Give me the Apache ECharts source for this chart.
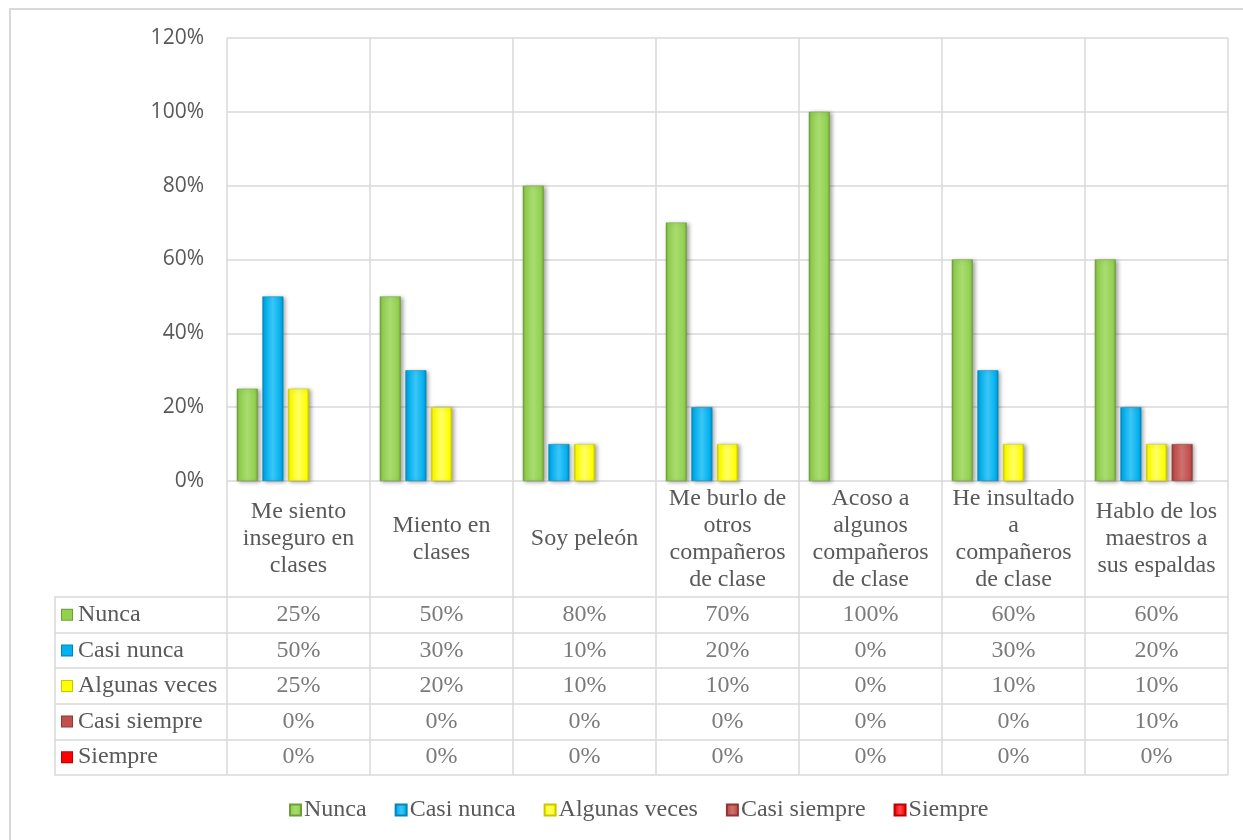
<!DOCTYPE html>
<html>
<head>
<meta charset="utf-8">
<script src="https://cdn.jsdelivr.net/npm/echarts@6/dist/echarts.min.js"></script>
<style>
html,body{margin:0;padding:0;background:#fff;}
#c{width:1243px;height:840px;}
</style>
</head>
<body>
<div id="c"></div>
<script>
const categories = ['Me siento\ninseguro en\nclases', 'Miento en\nclases', 'Soy peleón', 'Me burlo de\notros\ncompañeros\nde clase', 'Acoso a\nalgunos\ncompañeros\nde clase', 'He insultado\na\ncompañeros\nde clase', 'Hablo de los\nmaestros a\nsus espaldas'];
const seriesNames = ['Nunca', 'Casi nunca', 'Algunas veces', 'Casi siempre', 'Siempre'];
const nunca = [25, 50, 80, 70, 100, 60, 60];
const casiNunca = [50, 30, 10, 20, 0, 30, 20];
const algunasVeces = [25, 20, 10, 10, 0, 10, 10];
const casiSiempre = [0, 0, 0, 0, 0, 0, 10];
const siempre = [0, 0, 0, 0, 0, 0, 0];
const yMin = 0, yMax = 120, yStep = 20;

const allValues = [nunca, casiNunca, algunasVeces, casiSiempre, siempre];
const baseColors = ['#92d050', '#00b0f0', '#ffff00', '#c0504d', '#ff0000'];
const darkColors = ['#6f9e38', '#0086b8', '#c8c800', '#8e3735', '#c00000'];
const lightColors = ['#a9dc70', '#3cc6f6', '#ffff66', '#d0706d', '#ff4a4a'];

const textColor = '#595959';
const lineColor = '#d9d9d9';
const serif = '"Liberation Serif", "Times New Roman", serif';
const fs = 24;

function grad(i) {
  return new echarts.graphic.LinearGradient(0, 0, 1, 0, [
    {offset: 0, color: darkColors[i]},
    {offset: 0.12, color: baseColors[i]},
    {offset: 0.5, color: lightColors[i]},
    {offset: 0.88, color: baseColors[i]},
    {offset: 1, color: darkColors[i]}
  ]);
}

const barSeries = seriesNames.map((name, i) => ({
  name: name,
  type: 'bar',
  xAxisIndex: 0,
  yAxisIndex: 0,
  // zero values are not drawn (Excel shows nothing for them)
  data: allValues[i].map(v => (v === 0 ? '-' : v)),
  barWidth: 21,
  barGap: '22%',
  itemStyle: {
    color: grad(i),
    borderColor: darkColors[i],
    borderWidth: 0.5,
    shadowColor: 'rgba(0,0,0,0.35)',
    shadowBlur: 4,
    shadowOffsetX: 2,
    shadowOffsetY: 1
  },
  emphasis: {disabled: true}
}));

const tableData = [];
allValues.forEach((arr, r) => arr.forEach((v, c) => tableData.push([c, r, v])));

const rich = {t: {color: textColor, fontFamily: serif, fontSize: fs, padding: [0, 0, 0, 6]}};
seriesNames.forEach((n, i) => {
  rich['m' + i] = {width: 10, height: 10, backgroundColor: baseColors[i], borderColor: darkColors[i], borderWidth: 1};
});

const chart = echarts.init(document.getElementById('c'));
chart.setOption({
  animation: false,
  backgroundColor: '#fff',
  graphic: [{
    type: 'rect', z: -10, silent: true,
    shape: {x: 10, y: 9, width: 1400, height: 1000},
    style: {fill: 'none', stroke: lineColor, lineWidth: 2}
  }],
  legend: {
    bottom: 13,
    left: 284,
    itemWidth: 11,
    itemHeight: 11,
    itemGap: 28,
    icon: 'rect',
    data: seriesNames,
    textStyle: {color: textColor, fontFamily: serif, fontSize: fs, padding: [0, 0, 0, -2]}
  },
  grid: [
    {left: 227, right: 15, top: 38, height: 443},
    {left: 227, right: 15, top: 597, height: 178},
    {left: 55, width: 172, top: 597, height: 178}
  ],
  xAxis: [
    {
      type: 'category', gridIndex: 0, data: categories,
      axisLine: {show: false},
      axisTick: {show: true, length: 116, lineStyle: {color: lineColor, width: 1.5}},
      splitLine: {show: true, lineStyle: {color: lineColor, width: 1.5}},
      axisLabel: {color: textColor, fontFamily: serif, fontSize: fs, lineHeight: 27, margin: 58, verticalAlign: 'middle', align: 'center', interval: 0}
    },
    {
      type: 'category', gridIndex: 1, data: categories,
      axisLine: {show: false}, axisTick: {show: false}, axisLabel: {show: false},
      splitLine: {show: true, lineStyle: {color: lineColor, width: 1.5}}
    },
    {
      type: 'value', gridIndex: 2, show: false, min: 0, max: 1
    }
  ],
  yAxis: [
    {
      type: 'value', gridIndex: 0, min: yMin, max: yMax, interval: yStep,
      axisLine: {show: false}, axisTick: {show: false},
      splitLine: {show: true, lineStyle: {color: lineColor, width: 1.5}},
      axisLabel: {formatter: '{value}%', color: textColor, fontFamily: '"Open Sans", sans-serif', fontSize: 21, margin: 23}
    },
    {
      type: 'category', gridIndex: 1, data: seriesNames, inverse: true,
      axisLine: {show: false}, axisTick: {show: false},
      splitLine: {show: true, lineStyle: {color: lineColor, width: 1.5}},
      axisLabel: {
        align: 'left', margin: 165,
        formatter: (v, idx) => '{m' + idx + '|}{t|' + v + '}',
        rich: rich
      }
    },
    {
      type: 'category', gridIndex: 2, data: seriesNames, inverse: true,
      axisLine: {show: true, lineStyle: {color: lineColor, width: 1.5}}, axisTick: {show: false},
      axisLabel: {show: false},
      splitLine: {show: true, lineStyle: {color: lineColor, width: 1.5}}
    }
  ],
  series: barSeries.concat([{
    type: 'scatter',
    xAxisIndex: 1,
    yAxisIndex: 1,
    data: tableData,
    symbolSize: 1,
    itemStyle: {color: 'rgba(0,0,0,0)'},
    silent: true,
    label: {
      show: true, position: 'inside',
      formatter: p => p.value[2] + '%',
      color: textColor, fontFamily: serif, fontSize: fs
    }
  }])
});
</script>
</body>
</html>
